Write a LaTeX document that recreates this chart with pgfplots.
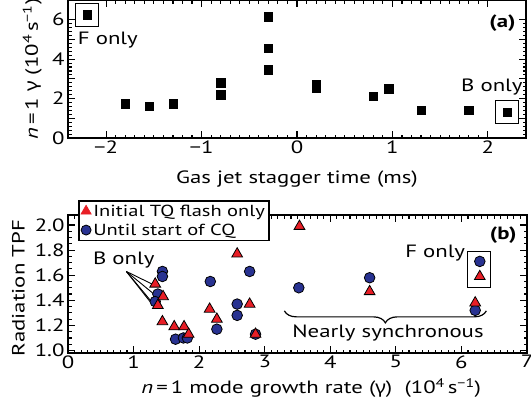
\documentclass[border=0pt]{standalone}
\usepackage{fontspec}
\setmainfont{PT Sans}[FakeStretch=1.28]
\newfontfamily\gk{Noto Sans}[FakeStretch=1.15]
\usepackage{pgfplots}
\pgfplotsset{compat=1.18}
\usetikzlibrary{decorations.pathreplacing}
\definecolor{tri}{RGB}{232,30,38}
\definecolor{cir}{RGB}{40,50,145}
\newcommand{\fs}{\fontsize{17.8bp}{20bp}\selectfont}

\begin{document}
\begin{tikzpicture}[x=1bp,y=1bp]
\pgfplotsset{
  common/.style={
    scale only axis,
    font=\fs,
    axis line style={line width=1.6bp},
    tick align=inside, tick pos=both,
    major tick length=7bp, minor tick length=3.5bp,
    every tick/.style={black, line width=1.1bp},
    /pgf/number format/assume math mode=true,
    tick label style={font=\fs},
    label style={font=\fs},
    xticklabel style={yshift=1bp},
  }
}
% ---------------- panel (a)
\begin{axis}[common,
  at={(68bp,274bp)}, anchor=south west,
  width=458bp, height=138bp,
  xmin=-2.4, xmax=2.4, ymin=0, ymax=7,
  xtick={-2,-1,0,1,2}, xticklabels={−2,−1,0,1,2},
  minor x tick num=9,
  ytick={0,2,4,6}, minor y tick num=9,
  extra y ticks={1,3,5}, extra y tick labels={},
  xlabel={Gas jet stagger time (ms)},
  ylabel={{\itshape n}\,=\,1 {\gk γ} (10\textsuperscript{4}\,s\textsuperscript{−1})},
  xlabel style={at={(axis description cs:0.5,-0.30)}, anchor=center},
  ylabel style={at={(axis description cs:-0.078,0.5)}, anchor=center},
  clip=false,
]
\addplot[only marks, mark=square*, mark size=4.2bp, mark options={fill=black, draw=black}]
coordinates {
(-2.2,6.25) (-1.8,1.75) (-1.55,1.6) (-1.3,1.75)
(-0.8,2.8) (-0.8,2.2)
(-0.3,6.15) (-0.3,4.57) (-0.3,3.47)
(0.2,2.72) (0.2,2.52)
(0.8,2.12) (0.96,2.5)
(1.3,1.42) (1.8,1.42) (2.2,1.3)
};
\addplot[only marks, mark=square, mark size=11.5bp, mark options={draw=black, line width=1bp}]
coordinates {(-2.2,6.25) (2.2,1.3)};
\node[anchor=center] at (rel axis cs:0.087,0.71) {F only};
\node[anchor=east, inner sep=1bp] at (rel axis cs:0.995,0.366) {B only};
\node[anchor=east, font=\fs\bfseries] at (rel axis cs:0.985,0.83) {(a)};
\end{axis}

% ---------------- panel (b)
\begin{axis}[common,
  at={(68bp,59bp)}, anchor=south west,
  width=459bp, height=138bp,
  xmin=0, xmax=7, ymin=0.98, ymax=2.08,
  xtick={0,1,...,7}, minor x tick num=9,
  ytick={1.0,1.2,1.4,1.6,1.8,2.0}, minor y tick num=3,
  yticklabel style={/pgf/number format/.cd, fixed, fixed zerofill, precision=1},
  xlabel={{\itshape n}\,=\,1 mode growth rate ({\gk γ})\ \ (10\textsuperscript{4}\,s\textsuperscript{−1})},
  ylabel={Radiation TPF},
  xlabel style={at={(axis description cs:0.53,-0.254)}, anchor=center},
  ylabel style={at={(axis description cs:-0.108,0.47)}, anchor=center},
  legend style={at={(0.022,1.109)}, anchor=north west, draw=black, line width=1.6bp, fill=white,
    font=\fontsize{16bp}{18bp}\selectfont, inner sep=2bp, row sep=2bp,
    /tikz/every even column/.append style={column sep=1bp}},
  legend cell align=left,
  clip=false,
]
\addlegendimage{only marks, mark=triangle*, mark size=6bp, mark options={fill=tri, draw=tri, line width=0.6bp}}
\addlegendentry{Initial TQ flash only}
\addlegendimage{only marks, mark=*, mark size=5bp, mark options={fill=cir, draw=black, line width=0.8bp}}
\addlegendentry{Until start of CQ}

% B only pointer lines
\draw[line width=0.9bp] (axis cs:0.89,1.63) -- (axis cs:1.28,1.53);
\draw[line width=0.9bp] (axis cs:0.89,1.63) -- (axis cs:1.31,1.45);
\draw[line width=0.9bp] (axis cs:0.89,1.63) -- (axis cs:1.25,1.39);
\draw[line width=0.9bp] (axis cs:0.89,1.63) -- (axis cs:1.32,1.36);

\addplot[forget plot, only marks, mark=*, mark size=5.3bp, mark options={fill=cir, draw=black, line width=0.8bp}]
coordinates {
(1.44,1.63) (1.44,1.59) (1.37,1.45) (1.33,1.39)
(1.64,1.09) (1.76,1.10) (1.82,1.10)
(2.17,1.55) (2.27,1.17)
(2.58,1.37) (2.58,1.28) (2.77,1.63) (2.86,1.13)
(3.52,1.50) (4.60,1.58) (6.21,1.32) (6.28,1.71)
};
\addplot[forget plot, only marks, mark=triangle*, mark size=6.2bp, mark options={fill=tri, draw=black, line width=0.8bp}]
coordinates {
(1.33,1.53) (1.45,1.43) (1.37,1.36) (1.44,1.23)
(1.62,1.19) (1.77,1.19) (1.84,1.13)
(2.16,1.33) (2.27,1.25)
(2.58,1.77) (2.77,1.37) (2.86,1.13)
(3.53,1.99) (4.60,1.47) (6.21,1.38) (6.28,1.59)
};
\draw[line width=1bp] (axis cs:6.09,1.50) rectangle (axis cs:6.45,1.79);
\draw[line width=1.2bp, decorate, decoration={brace, mirror, amplitude=12bp, aspect=0.5}]
  (axis cs:3.30,1.316) -- (axis cs:6.38,1.316);
\node[anchor=center] at (axis cs:4.88,1.14) {Nearly synchronous};
\node[anchor=center] at (axis cs:5.60,1.775) {F only};
\node[anchor=center] at (axis cs:0.85,1.72) {B only};
\node[anchor=east, font=\fs\bfseries] at (rel axis cs:0.985,0.855) {(b)};
\end{axis}
\pgfresetboundingbox
\path (0,0) rectangle (531,412);
\end{tikzpicture}
\end{document}
